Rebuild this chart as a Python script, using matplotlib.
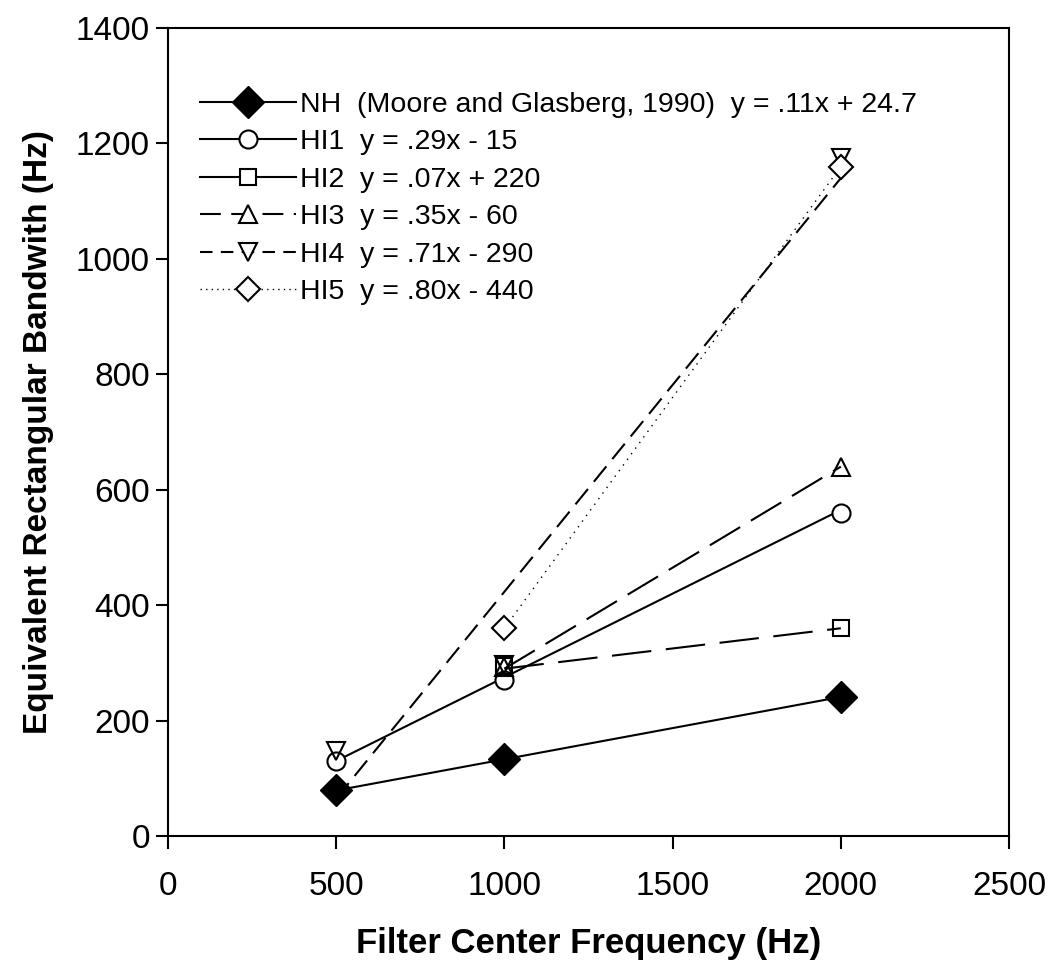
import matplotlib
matplotlib.use('Agg')
import matplotlib.pyplot as plt
from matplotlib.lines import Line2D

plt.rcParams['font.family'] = ['Liberation Sans', 'DejaVu Sans']

# measured points (marker positions)
nh_x = [500, 1000, 2000]
nh_y = [79, 133, 241]
hi1_x = [500, 1000, 2000]
hi1_y = [130, 270, 560]
hi2_x = [1000, 2000]
hi2_y = [295, 360]
hi3_x = [1000, 2000]
hi3_y = [293, 640]
hi4_x = [500, 1000, 2000]
hi4_y = [148, 297, 1175]
hi5_x = [1000, 2000]
hi5_y = [360, 1160]

# fitted lines, end points
hi1_line_x = [500, 2000]
hi1_line_y = [130, 565]
hi2_line_x = [1000, 2000]
hi2_line_y = [290, 360]
hi3_line_x = [1000, 2000]
hi3_line_y = [290, 640]
hi4_line_x = [500, 2000]
hi4_line_y = [65, 1140]
hi5_line_x = [1000, 2000]
hi5_line_y = [360, 1160]

labels = ['NH  (Moore and Glasberg, 1990)  y = .11x + 24.7',
          'HI1  y = .29x - 15',
          'HI2  y = .07x + 220',
          'HI3  y = .35x - 60',
          'HI4  y = .71x - 290',
          'HI5  y = .80x - 440']

fig = plt.figure(figsize=(10.5, 9.77), dpi=100)
ax = fig.add_axes([0.16, 0.1443, 0.801, 0.827])

lw = 1.5
ms = 13
open_m = dict(markerfacecolor='white', markeredgecolor='black', markeredgewidth=1.5,
              markersize=ms, linestyle='none', zorder=3)

# lines
ax.plot(nh_x, nh_y, color='black', lw=lw)
ax.plot(hi1_line_x, hi1_line_y, color='black', lw=lw)
ax.plot(hi2_line_x, hi2_line_y, color='black', lw=lw, dashes=(19, 7))
ax.plot(hi3_line_x, hi3_line_y, color='black', lw=lw, dashes=(17, 6))
ax.plot(hi4_line_x, hi4_line_y, color='black', lw=lw, dashes=(9.5, 4.5))
ax.plot(hi5_line_x, hi5_line_y, color='black', lw=1.0, dashes=(1, 4))

# markers
ax.plot(nh_x, nh_y, marker='D', color='black', markersize=ms + 3, linestyle='none', zorder=3)
ax.plot(hi1_x, hi1_y, marker='o', **open_m)
ax.plot(hi2_x, hi2_y, marker='s', **dict(open_m, markersize=ms - 2, markerfacecolor='none'))
ax.plot(hi3_x, hi3_y, marker='^', **dict(open_m, markerfacecolor='none'))
ax.plot(hi4_x, hi4_y, marker='v', **dict(open_m, markerfacecolor='none'))
ax.plot(hi5_x, hi5_y, marker='D', **dict(open_m, markersize=ms - 1))

handles = [
    Line2D([], [], color='black', lw=lw, marker='D', markersize=ms + 3),
    Line2D([], [], color='black', lw=lw, marker='o', markersize=ms, mfc='white', mew=1.5),
    Line2D([], [], color='black', lw=lw, marker='s', markersize=ms - 2, mfc='white', mew=1.5),
    Line2D([], [], color='black', lw=lw, marker='^', markersize=ms, mfc='white', mew=1.5, dashes=(10, 5)),
    Line2D([], [], color='black', lw=lw, marker='v', markersize=ms, mfc='white', mew=1.5, dashes=(6, 4)),
    Line2D([], [], color='black', lw=1.0, marker='D', markersize=ms - 1, mfc='white', mew=1.5, dashes=(1, 3)),
]
ax.legend(handles, labels, loc='upper left', bbox_to_anchor=(0.024, 0.935), frameon=False,
          fontsize=20.5, handlelength=3.4, handletextpad=0.12, labelspacing=0.4,
          borderaxespad=0)

ax.set_xlim(0, 2500)
ax.set_ylim(0, 1400)
ax.set_xticks([0, 500, 1000, 1500, 2000, 2500])
ax.set_yticks([0, 200, 400, 600, 800, 1000, 1200, 1400])
ax.tick_params(direction='out', length=9, width=1.5, labelsize=24,
               top=False, right=False)
ax.tick_params(axis='x', pad=16)
ax.tick_params(axis='y', pad=4)
for s in ax.spines.values():
    s.set_linewidth(1.5)

ax.set_xlabel('Filter Center Frequency (Hz)', fontsize=25, fontweight='bold', labelpad=18)
ax.set_ylabel('Equivalent Rectangular Bandwith (Hz)', fontsize=24, fontweight='bold', labelpad=16)

fig.savefig('out.png', dpi=100)
